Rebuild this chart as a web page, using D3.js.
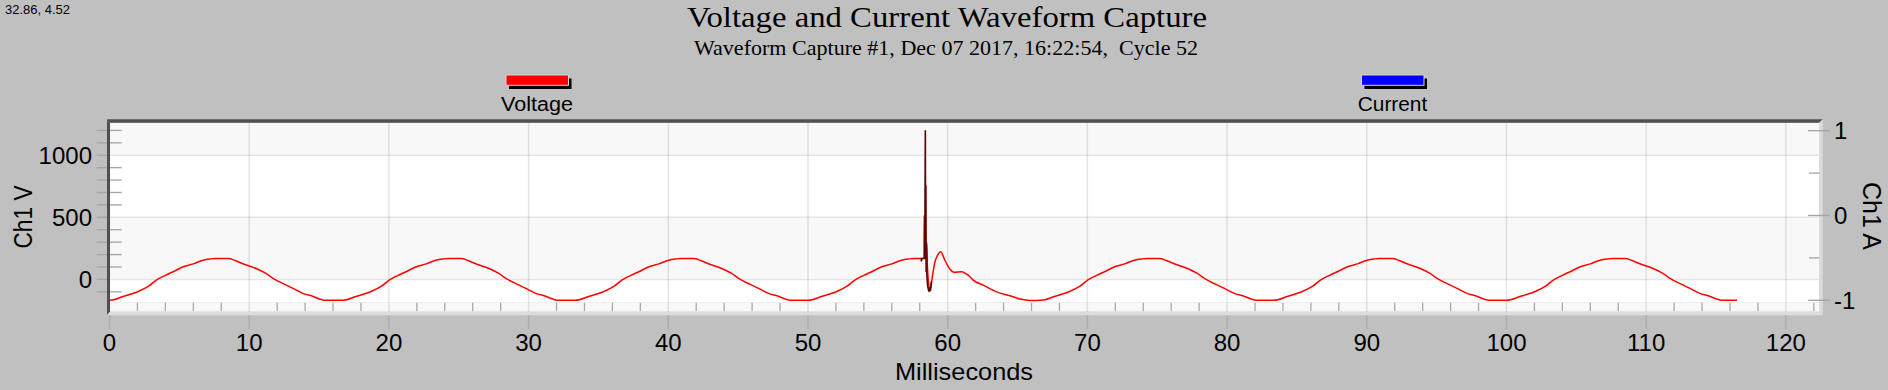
<!DOCTYPE html>
<html><head><meta charset="utf-8">
<script src="https://cdn.jsdelivr.net/npm/d3@7"></script>
<style>
html,body{margin:0;padding:0;background:#c0c0c0;}
svg{display:block;}
text{font-family:"Liberation Sans",Arial,sans-serif;fill:#000;}
</style>
</head><body>
<svg id="chart" width="1888" height="390"></svg>
<script>
// ---------- data ----------
const titleText = "Voltage and Current Waveform Capture";
const subtitleText = "Waveform Capture #1, Dec 07 2017, 16:22:54,  Cycle 52";
const cursorText = "32.86, 4.52";
const seriesNames = ["Voltage", "Current"];
const seriesColors = ["#ff0000", "#0000ff"];
const xTickValues = [0, 10, 20, 30, 40, 50, 60, 70, 80, 90, 100, 110, 120];
const xMinorTicks = [2,4,6,8,12,14,16,18,22,24,26,28,32,34,36,38,42,44,46,48,52,54,56,58,62,64,66,68,72,74,76,78,82,84,86,88,92,94,96,98,102,104,106,108,112,114,116,118,122];
const yLeftTickValues = [0, 500, 1000];
const yLeftMinorTicks = [-100,100,200,300,400,600,700,800,900,1100,1200];
const yRightTickValues = [-1, 0, 1];
const yRightMinorTicks = [-0.5, 0.5];
const xLabel = "Milliseconds";
const yLeftLabel = "Ch1 V";
const yRightLabel = "Ch1 A";

// Ch1 voltage (ms, V) read from the capture
const voltageTimes = [
  0,0.3,0.9,1.6,2.1,2.8,3.35,4.0,4.6,5.2,6.0,6.7,7.2,7.6,8.5,9.0,9.5,10.5,11.2,11.8,12.5,13.1,13.8,14.5,15.4,
  16.67,16.97,17.57,18.27,18.77,19.47,20.02,20.67,21.27,21.87,22.67,23.37,23.87,24.27,25.17,25.67,26.17,27.17,27.87,28.47,29.17,29.77,30.47,31.17,32.07,
  33.33,33.63,34.23,34.93,35.43,36.13,36.68,37.33,37.93,38.53,39.33,40.03,40.53,40.93,41.83,42.33,42.83,43.83,44.53,45.13,45.83,46.43,47.13,47.83,48.73,
  50.0,50.3,50.9,51.6,52.1,52.8,53.35,54.0,54.6,55.2,56.0,56.7,57.2,57.6,58.2,58.3,58.32,58.35,58.47,58.5,58.55,58.6,58.7,58.8,58.85,59.09,59.28,59.5,59.8,60.05,60.28,60.47,61.0,61.27,61.6,61.83,62.55,63.5,64.46,65.18,65.9,
  66.67,66.97,67.57,68.27,68.77,69.47,70.02,70.67,71.27,71.87,72.67,73.37,73.87,74.27,75.17,75.67,76.17,77.17,77.87,78.47,79.17,79.77,80.47,81.17,82.07,
  83.33,83.63,84.23,84.93,85.43,86.13,86.68,87.33,87.93,88.53,89.33,90.03,90.53,90.93,91.83,92.33,92.83,93.83,94.53,95.13,95.83,96.43,97.13,97.83,98.73,
  100.0,100.3,100.9,101.6,102.1,102.8,103.35,104.0,104.6,105.2,106.0,106.7,107.2,107.6,108.5,109.0,109.5,110.5,111.2,111.8,112.5,113.1,113.8,114.5,115.4,116.5
];
const voltageValues = [
  -167,-163,-140,-116,-95,-55,-5,33,64,98,125,155,165,169,169,152,128,88,48,2,-38,-70,-110,-134,-167,
  -167,-163,-140,-116,-95,-55,-5,33,64,98,125,155,165,169,169,152,128,88,48,2,-38,-70,-110,-134,-167,
  -167,-163,-140,-116,-95,-55,-5,33,64,98,125,155,165,169,169,152,128,88,48,2,-38,-70,-110,-134,-167,
  -167,-163,-140,-116,-95,-55,-5,33,64,98,125,155,165,169,169,170,517,180,200,284,101,10,-75,-60,-19,142,195,222,155,101,69,57,61,48,21,-6,-46,-100,-132,-158,-169,
  -167,-163,-140,-116,-95,-55,-5,33,64,98,125,155,165,169,169,152,128,88,48,2,-38,-70,-110,-134,-167,
  -167,-163,-140,-116,-95,-55,-5,33,64,98,125,155,165,169,169,152,128,88,48,2,-38,-70,-110,-134,-167,
  -167,-163,-140,-116,-95,-55,-5,33,64,98,125,155,165,169,169,152,128,88,48,2,-38,-70,-110,-134,-167,-167
];
// high-resolution transient overlay (ms, V)
const transientTimes = [58.10,58.12,58.14,58.36,58.40,58.42,58.44,58.46,58.48,58.51,58.54,58.58,58.63,58.68,58.72,58.77,58.81,58.84];
const transientValues = [169,145,169,169,1201,250,758,60,300,40,-20,-60,-86,-75,-92,-88,-40,-15];
// Ch1 current (ms, A): no samples shown
const currentTimes = [];
const currentValues = [];

// ---------- layout ----------
const svg = d3.select("#chart");
const L = 110, R = 1819.4, T = 122.7, B = 311.7, bandTop = 302.7;
const x = d3.scaleLinear().domain([0, 122.4]).range([109.5, R]);
const yL = d3.scaleLinear().domain([-260, 1262]).range([B, T]);
const yR = d3.scaleLinear().domain([-1, 1]).range([300.3, 130.7]);

// plot background bands
const bandEdges = [1262, 1000, 500, 0, yL.invert(bandTop)];
const bandFill = ["#f8f8f8", "#ffffff", "#f8f8f8", "#ffffff"];
svg.selectAll("rect.band").data(d3.pairs(bandEdges)).join("rect")
  .attr("x", L).attr("width", R - L)
  .attr("y", d => yL(d[0])).attr("height", d => yL(d[1]) - yL(d[0]))
  .attr("fill", (d, i) => bandFill[i]);
svg.append("rect").attr("x", L).attr("width", R - L).attr("y", bandTop).attr("height", B - bandTop).attr("fill", "#f8f8f8");

// horizontal grid
svg.selectAll("line.hg").data(yLeftTickValues).join("line")
  .attr("x1", L).attr("x2", R).attr("y1", d => yL(d)).attr("y2", d => yL(d))
  .attr("stroke", "#e6e6e6").attr("stroke-width", 1.5);
// vertical grid (extends below plot)
svg.selectAll("line.vg").data(xTickValues).join("line")
  .attr("x1", d => x(d)).attr("x2", d => x(d)).attr("y1", T).attr("y2", 329)
  .attr("stroke", "rgba(0,0,0,0.1)").attr("stroke-width", 1.5);
// minor x ticks in the band
svg.selectAll("line.xm").data(xMinorTicks).join("line")
  .attr("x1", d => x(d)).attr("x2", d => x(d)).attr("y1", bandTop).attr("y2", 311)
  .attr("stroke", "#a8a8a8").attr("stroke-width", 1.3);

// left axis ticks
svg.selectAll("line.ylm").data(yLeftMinorTicks).join("line")
  .attr("x1", 96.7).attr("x2", 121.7).attr("y1", d => yL(d)).attr("y2", d => yL(d))
  .attr("stroke", "#a4a4a4").attr("stroke-width", 1.3);
svg.selectAll("line.ylM").data(yLeftTickValues).join("line")
  .attr("x1", 96.7).attr("x2", 110).attr("y1", d => yL(d)).attr("y2", d => yL(d))
  .attr("stroke", "#a4a4a4").attr("stroke-width", 1.3);

// data lines
const lineV = d3.line().x(d => x(d[0])).y(d => yL(d[1])).curve(d3.curveMonotoneX);
const lineT = d3.line().x(d => x(d[0])).y(d => yL(d[1]));
svg.append("path").datum(d3.zip(voltageTimes, voltageValues))
  .attr("d", lineV).attr("fill", "none").attr("stroke", seriesColors[0]).attr("stroke-width", 1.5)
  .attr("stroke-linejoin", "round");
svg.append("path").datum(d3.zip(transientTimes, transientValues))
  .attr("d", lineT).attr("fill", "none").attr("stroke", "#600000").attr("stroke-width", 1.6);
if (currentTimes.length) {
  const lineA = d3.line().x(d => x(d[0])).y(d => yR(d[1]));
  svg.append("path").datum(d3.zip(currentTimes, currentValues))
    .attr("d", lineA).attr("fill", "none").attr("stroke", seriesColors[1]).attr("stroke-width", 1.5);
}

// 3D frame
const fo = 3.5;
svg.append("polygon").attr("points", [[L-3,T-fo],[R+3.3,T-fo],[R,T],[L,T]].join(" ")).attr("fill", "#505050");
svg.append("polygon").attr("points", [[L-3,T-fo],[L,T],[L,B],[L-3,B+fo]].join(" ")).attr("fill", "#505050");
svg.append("polygon").attr("points", [[R+3.3,T-fo],[R+3.3,B+fo],[R,B],[R,T]].join(" ")).attr("fill", "#dcdcdc");
svg.append("polygon").attr("points", [[L-3,B+fo],[R+3.3,B+fo],[R,B],[L,B]].join(" ")).attr("fill", "#dcdcdc");

// right axis ticks
svg.selectAll("line.yrM").data(yRightTickValues).join("line")
  .attr("x1", 1808).attr("x2", 1830).attr("y1", d => yR(d)).attr("y2", d => yR(d))
  .attr("stroke", "#a4a4a4").attr("stroke-width", 1.3);
svg.selectAll("line.yrm").data(yRightMinorTicks).join("line")
  .attr("x1", 1809).attr("x2", R).attr("y1", d => yR(d)).attr("y2", d => yR(d))
  .attr("stroke", "#a4a4a4").attr("stroke-width", 1.3);

// tick labels
svg.selectAll("text.xt").data(xTickValues).join("text")
  .attr("x", d => x(d)).attr("y", 350.7).attr("text-anchor", "middle")
  .style("font-size", "24px").text(d => d);
svg.selectAll("text.ylt").data(yLeftTickValues).join("text")
  .attr("x", 92).attr("y", d => yL(d) + 8.6).attr("text-anchor", "end")
  .style("font-size", "24px").text(d => d);
svg.selectAll("text.yrt").data(yRightTickValues).join("text")
  .attr("x", 1834).attr("y", d => yR(d) + 8.6).attr("text-anchor", "start")
  .style("font-size", "24px").text(d => d);

// axis titles
svg.append("text").attr("x", 964).attr("y", 380).attr("text-anchor", "middle")
  .style("font-size", "24px").attr("textLength", 138).attr("lengthAdjust", "spacingAndGlyphs").text(xLabel);
svg.append("text").attr("transform", "translate(31.5,217) rotate(-90)").attr("text-anchor", "middle")
  .style("font-size", "25px").attr("textLength", 63).attr("lengthAdjust", "spacingAndGlyphs").text(yLeftLabel);
svg.append("text").attr("transform", "translate(1862.5,216) rotate(90)").attr("text-anchor", "middle")
  .style("font-size", "25px").attr("textLength", 68).attr("lengthAdjust", "spacingAndGlyphs").text(yRightLabel);

// titles
svg.append("text").attr("x", 947).attr("y", 26.5).attr("text-anchor", "middle")
  .style("font-family", "'Liberation Serif','Times New Roman',serif").style("font-size", "29px")
  .attr("textLength", 520).attr("lengthAdjust", "spacingAndGlyphs").text(titleText);
svg.append("text").attr("x", 946).attr("y", 55).attr("text-anchor", "middle")
  .attr("xml:space", "preserve").style("white-space", "pre")
  .style("font-family", "'Liberation Serif','Times New Roman',serif").style("font-size", "22px")
  .attr("textLength", 504).attr("lengthAdjust", "spacingAndGlyphs").text(subtitleText);
svg.append("text").attr("x", 5).attr("y", 14).style("font-size", "13px").text(cursorText);

// legend
const legendX = [537, 1392.5];
const legendTextLen = [72, 69.5];
const lg = svg.selectAll("g.leg").data(seriesNames).join("g");
lg.append("rect").attr("x", (d, i) => legendX[i] - 31 + 3).attr("y", 78.5).attr("width", 62.5).attr("height", 10.5).attr("fill", "#000");
lg.append("rect").attr("x", (d, i) => legendX[i] - 31).attr("y", 75).attr("width", 62.5).attr("height", 10.3)
  .attr("fill", (d, i) => seriesColors[i]).attr("stroke", "#d4d4d4").attr("stroke-width", 1);
lg.append("text").attr("x", (d, i) => legendX[i]).attr("y", 111).attr("text-anchor", "middle")
  .style("font-size", "20px").attr("textLength", (d, i) => legendTextLen[i]).attr("lengthAdjust", "spacingAndGlyphs").text(d => d);
</script>
</body></html>
